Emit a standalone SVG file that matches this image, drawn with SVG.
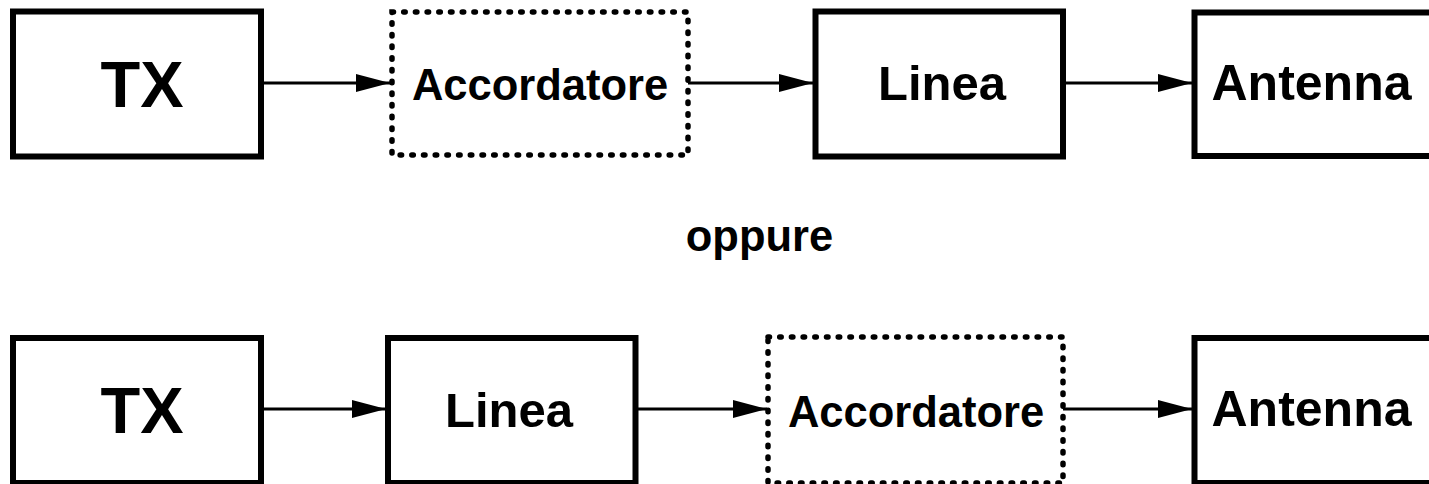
<svg xmlns="http://www.w3.org/2000/svg" width="1429" height="484" viewBox="0 0 1429 484">
<style>
.box{fill:#fff;stroke:#000;stroke-width:6}
.dot{fill:#fff;stroke:#000;stroke-width:5.5;stroke-dasharray:1.5 10.2;stroke-linecap:round}
.t{font-family:"Liberation Sans",Arial,sans-serif;font-weight:bold;fill:#000;text-anchor:middle}
.c{stroke:#000;stroke-width:3;fill:none;marker-end:url(#ah)}
</style>
<defs>
<marker id="ah" markerUnits="userSpaceOnUse" markerWidth="36" markerHeight="20" refX="34" refY="9" orient="auto">
<path d="M0,0 L34,9 L0,18 Z" fill="#000"/>
</marker>
</defs>
<rect width="1429" height="484" fill="#fff"/>
<g id="tx1"><rect class="box" x="13" y="11.5" width="248" height="145"/><text class="t" x="142" y="107" font-size="65">TX</text></g>
<g id="acc1"><rect class="dot" x="392" y="12" width="296" height="143"/><text class="t" x="540" y="100" font-size="43.5">Accordatore</text></g>
<g id="linea1"><rect class="box" x="815.5" y="11.5" width="247.5" height="145"/><text class="t" x="942" y="100" font-size="49">Linea</text></g>
<g id="ant1"><rect class="box" x="1194.5" y="12.5" width="240" height="143.5"/><text class="t" x="1311.5" y="100" font-size="50">Antenna</text></g>
<g id="oppure"><text class="t" x="759.5" y="251" font-size="43.5">oppure</text></g>
<g id="tx2"><rect class="box" x="13" y="338" width="248" height="145"/><text class="t" x="142" y="433" font-size="65">TX</text></g>
<g id="linea2"><rect class="box" x="388" y="338" width="247.5" height="145"/><text class="t" x="509" y="427" font-size="49">Linea</text></g>
<g id="acc2"><rect class="dot" x="768" y="337" width="295" height="146"/><text class="t" x="916" y="427" font-size="43.5">Accordatore</text></g>
<g id="ant2"><rect class="box" x="1194.5" y="338" width="240" height="145"/><text class="t" x="1311.5" y="426" font-size="50">Antenna</text></g>
<g id="connectors">
<line class="c" x1="261" y1="83" x2="390" y2="83"/>
<line class="c" x1="688" y1="83" x2="813" y2="83"/>
<line class="c" x1="1063" y1="83" x2="1192" y2="83"/>
<line class="c" x1="261" y1="409" x2="386" y2="409"/>
<line class="c" x1="635.5" y1="409" x2="767" y2="409"/>
<line class="c" x1="1063" y1="409" x2="1192" y2="409"/>
</g>
</svg>
